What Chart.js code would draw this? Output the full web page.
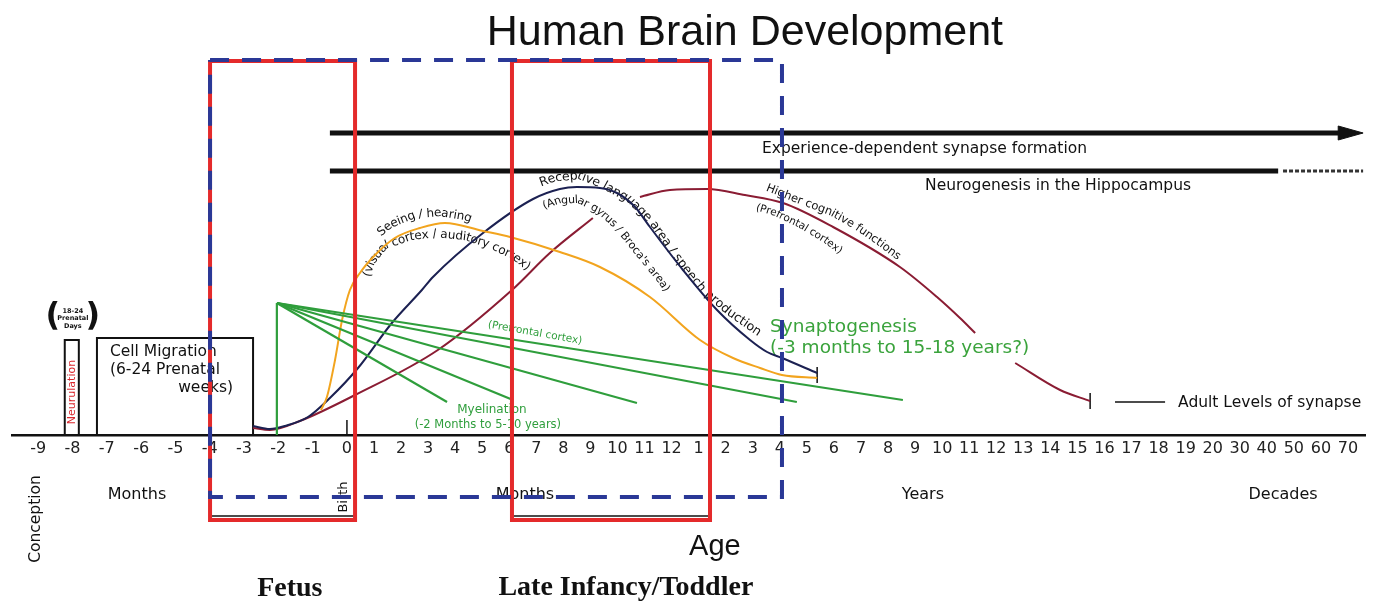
<!DOCTYPE html>
<html>
<head>
<meta charset="utf-8">
<script src="https://cdn.jsdelivr.net/npm/chart.js@4.4.1/dist/chart.umd.min.js"></script>
<style>
html, body { margin: 0; padding: 0; background: #fff; }
#wrap { width: 1380px; height: 602px; }
</style>
</head>
<body>
<div id="wrap"><canvas id="brain" width="1380" height="602"></canvas></div>
<script>
// x axis: prenatal months, postnatal months, years, decades
var tickLabels = ['-9', '-8', '-7', '-6', '-5', '-4', '-3', '-2', '-1', '0',
  '1', '2', '3', '4', '5', '6', '7', '8', '9', '10', '11', '12',
  '1', '2', '3', '4', '5', '6', '7', '8', '9', '10', '11', '12', '13', '14', '15', '16', '17', '18', '19', '20',
  '30', '40', '50', '60', '70'];
var PRENATAL_SLOT = 1.268; // prenatal months are drawn wider than the later ticks
var tickValues = tickLabels.map(function (t, i) { return i < 9 ? (i - 9) * PRENATAL_SLOT : i - 9; });

// curves: [axis position, relative level 0-100]
var seeingHearing = [[-0.96, 6.25], [-0.74, 9.5], [-0.44, 18.75], [-0.18, 28.75], [0.11, 36.25], [0.48, 40.5],
  [1.04, 45], [1.77, 49.25], [2.70, 51.75], [3.62, 53], [5.03, 51], [6.03, 49.5], [7.87, 45.75], [9.35, 42],
  [11.2, 34.5], [13.05, 23.75], [14.27, 19.25], [15.27, 16.75], [16.08, 15], [17.38, 14.25]];
var receptiveLanguage = [[-3.47, 2.25], [-2.85, 1.5], [-2.29, 2.25], [-1.44, 4.5], [-0.63, 9.25], [0.41, 16.75],
  [1.66, 28], [2.77, 36.25], [3.18, 39.5], [5.03, 50.5], [6.88, 59], [7.87, 61.5], [8.50, 62], [9.35, 61.75],
  [9.98, 60.5], [10.65, 57], [11.2, 52], [12.42, 41.25], [13.68, 31.25], [14.9, 23.75], [15.53, 20.75],
  [16.08, 19.25], [17.38, 15.5]];
var higherCognitive = [[-3.47, 1.75], [-2.85, 1.25], [-1.74, 3.5], [0.30, 10], [3.36, 21.25], [6.10, 36.25],
  [7.50, 45.5], [9.09, 54.25], [9.9, null], [10.83, 59.5], [11.94, 61.25], [13.31, 61.5], [14.71, 60],
  [16.12, 58], [17.97, 52], [20.44, 42], [21.81, 34.5], [22.66, 29.25], [23.22, 25.5], [23.9, null],
  [24.70, 18], [26.36, 11.25], [27.47, 8.5]];
var myelinationOrigin = [-2.59, 33];
var myelinationEnds = [[3.70, 8.25], [6.14, 8.75], [10.72, 8], [16.63, 8.25], [20.55, 8.75]];
var synaptogenesisEnd = [17.38, 13, 17];
var adultLevelEnd = [27.47, 6.5, 10.5];
var adultLevelKey = [28.39, 30.24, 8.25];

// horizontal processes: [start, end, level]
var experienceFormation = [-0.63, 36.7, 75.5];
var neurogenesisSolid = [-0.63, 34.42, 66];
var neurogenesisLater = [34.6, 37.56, 66];

// prenatal boxes: [left, right, top]
var neurulation = [-10.43, -9.91, 23.75];
var cellMigration = [-9.24, -3.47, 24.25];

// highlighted stages: [left, right, top, bottom]
var fetusBox = [-5.06, 0.30, 93.5, -21.25];
var toddlerBox = [6.10, 13.42, 93.5, -21.25];
var focusBox = [-5.06, 16.08, 93.75, -15.5];
var birthMark = [0, 0, 3.75];

function xy(p) { return { x: p[0], y: p[1] }; }
function line(points, color, width, extra) {
  var ds = {
    data: points.map(xy), borderColor: color, backgroundColor: color, borderWidth: width,
    pointRadius: 0, fill: false, tension: 0, clip: false, spanGaps: false, order: 5
  };
  for (var k in extra) ds[k] = extra[k];
  return ds;
}
function rect(b) {
  return [[b[0], b[2]], [b[1], b[2]], [b[1], b[3]], [b[0], b[3]], [b[0], b[2]]];
}
function openBox(b) {
  return [[b[0], 0], [b[0], b[2]], [b[1], b[2]], [b[1], 0]];
}

var RED = '#e42a2b', BLUE = '#2a3896', GREEN = '#2f9e3c', ORANGE = '#f2a41e', NAVY = '#1c2152', MAROON = '#8a1c33', INK = '#111';

var datasets = [
  line(rect(focusBox), BLUE, 4, { borderDash: [19, 13], order: 0 }),
  line(rect(fetusBox), RED, 4, { order: 1, borderJoinStyle: 'miter' }),
  line(rect(toddlerBox), RED, 4, { order: 1, borderJoinStyle: 'miter' }),
  line([[fetusBox[0], -20.25], [fetusBox[1], -20.25]], INK, 1.5, { order: 2 }),
  line([[toddlerBox[0], -20.25], [toddlerBox[1], -20.25]], INK, 1.5, { order: 2 }),
  line(seeingHearing, ORANGE, 2, { cubicInterpolationMode: 'monotone', order: 4 }),
  line(receptiveLanguage, NAVY, 2, { cubicInterpolationMode: 'monotone', order: 4 }),
  line(higherCognitive, MAROON, 2, { cubicInterpolationMode: 'monotone', order: 4 }),
  line([[synaptogenesisEnd[0], synaptogenesisEnd[1]], [synaptogenesisEnd[0], synaptogenesisEnd[2]]], INK, 1.5),
  line([[adultLevelEnd[0], adultLevelEnd[1]], [adultLevelEnd[0], adultLevelEnd[2]]], INK, 1.5),
  line([[adultLevelKey[0], adultLevelKey[2]], [adultLevelKey[1], adultLevelKey[2]]], INK, 1.5),
  line([myelinationOrigin, [myelinationOrigin[0], 0]], GREEN, 2.2, { order: 3 }),
  line(openBox(neurulation), INK, 2),
  line(openBox(cellMigration), INK, 2),
  line([[birthMark[0], birthMark[1]], [birthMark[0], birthMark[2]]], INK, 1.5),
  line([[experienceFormation[0], experienceFormation[2]], [experienceFormation[1], experienceFormation[2]]], INK, 5),
  line([[36.64, 77.25], [37.56, 75.5], [36.64, 73.75], [36.64, 77.25]], INK, 1, { fill: 'shape' }),
  line([[neurogenesisSolid[0], neurogenesisSolid[2]], [neurogenesisSolid[1], neurogenesisSolid[2]]], INK, 5),
  line([[neurogenesisLater[0], neurogenesisLater[2]], [neurogenesisLater[1], neurogenesisLater[2]]], '#333', 3, { borderDash: [4, 2] })
];
myelinationEnds.forEach(function (e) {
  datasets.push(line([myelinationOrigin, e], GREEN, 2.2, { order: 3 }));
});

var SANS = '"DejaVu Sans"';
var labels = [
  { t: 'Human Brain Development', at: [14.71, 97.5], font: '43px "Liberation Sans"', base: 'alphabetic' },
  { t: 'Experience-dependent synapse formation', at: [15.34, 71.5], font: '15.5px ' + SANS, align: 'left' },
  { t: 'Neurogenesis in the Hippocampus', at: [21.37, 62.25], font: '15.5px ' + SANS, align: 'left' },
  { t: 'Cell Migration', at: [-8.76, 20.75], font: '15.5px ' + SANS, align: 'left' },
  { t: '(6-24 Prenatal', at: [-8.76, 16.25], font: '15.5px ' + SANS, align: 'left' },
  { t: 'weeks)', at: [-4.21, 11.75], font: '15.5px ' + SANS, align: 'right' },
  { t: 'Neurulation', at: [-10.15, 10.75], font: '11px ' + SANS, color: '#d9282e', rot: -90 },
  { t: '(', at: [-10.87, 29.5], font: 'bold 32px ' + SANS },
  { t: ')', at: [-9.39, 29.5], font: 'bold 32px ' + SANS },
  { t: '18-24', at: [-10.13, 31], font: 'bold 6.5px ' + SANS },
  { t: 'Prenatal', at: [-10.13, 29.1], font: 'bold 6.5px ' + SANS },
  { t: 'Days', at: [-10.13, 27.25], font: 'bold 6.5px ' + SANS },
  { t: '(Prefrontal cortex)', at: [6.95, 25.5], font: '10.5px ' + SANS, color: GREEN, rot: 10 },
  { t: 'Myelination', at: [5.36, 6.25], font: '12px ' + SANS, color: GREEN },
  { t: '(-2 Months to 5-10 years)', at: [5.21, 2.5], font: '11.5px ' + SANS, color: GREEN },
  { t: 'Synaptogenesis', at: [15.64, 27], font: '18.5px ' + SANS, color: '#3aa33c', align: 'left' },
  { t: '(-3 months to 15-18 years?)', at: [15.64, 21.75], font: '18.5px ' + SANS, color: '#3aa33c', align: 'left' },
  { t: 'Adult Levels of synapse', at: [30.72, 8], font: '15.5px ' + SANS, align: 'left' },
  { t: 'Months', at: [-7.76, -15], font: '16px ' + SANS },
  { t: 'Months', at: [6.58, -15], font: '16px ' + SANS },
  { t: 'Years', at: [21.29, -15], font: '16px ' + SANS },
  { t: 'Decades', at: [34.6, -15], font: '16px ' + SANS },
  { t: 'Conception', at: [-11.5, -21], font: '15.5px ' + SANS, rot: -90 },
  { t: 'Birth', at: [-0.11, -15.5], font: '13px ' + SANS, rot: -90 },
  { t: 'Age', at: [13.6, -30], font: '29px "Liberation Sans"', base: 'alphabetic' },
  { t: 'Fetus', at: [-2.11, -40.25], font: 'bold 28px "Liberation Serif"', base: 'alphabetic' },
  { t: 'Late Infancy/Toddler', at: [10.31, -40], font: 'bold 28px "Liberation Serif"', base: 'alphabetic' }
];
var curvedLabels = [
  { t: 'Seeing / hearing', font: '12px ' + SANS,
    path: [[0.78, 48], [1.59, 52.5], [2.51, 55], [3.44, 55.5], [4.36, 54.5], [5.10, 52.75]] },
  { t: '(visual cortex / auditory cortex)', font: '12px ' + SANS,
    path: [[0.55, 36.25], [0.92, 43.25], [1.40, 47.25], [2.33, 49.5], [3.33, 50.25], [4.36, 49.5], [5.29, 47.5], [6.21, 44.5], [7.13, 39.5]] },
  { t: 'Receptive language area / speech production', font: '12.5px ' + SANS,
    path: [[6.88, 62.25], [7.69, 64.25], [8.61, 64.75], [9.46, 62.5], [10.46, 58.75], [11.28, 53.25], [11.87, 47.5],
      [12.50, 41.75], [13.16, 36.25], [14.16, 30.5], [15.45, 24.5]] },
  { t: '(Angular gyrus / Broca\'s area)', font: '11px ' + SANS,
    path: [[7.06, 56.75], [7.80, 58.5], [8.54, 58.75], [9.28, 56.25], [9.91, 52.5], [10.46, 48], [11.02, 43.25], [11.57, 38.75], [11.94, 35]] },
  { t: 'Higher cognitive functions', font: '11.5px ' + SANS,
    path: [[15.27, 62.5], [16.75, 58.5], [17.86, 55.75], [18.85, 52], [19.70, 48], [20.63, 43.25]] },
  { t: '(Prefrontal cortex)', font: '10.5px ' + SANS,
    path: [[14.79, 57.5], [15.82, 55.5], [16.75, 52.5], [17.67, 48.75], [18.52, 44.5]] }
];

var labelPlugin = {
  id: 'labelPlugin',
  beforeDatasetsDraw: function (chart) {
    var ctx = chart.ctx, xs = chart.scales.x, ys = chart.scales.y;
    function px(u) { return xs.getPixelForValue(u); }
    function py(v) { return ys.getPixelForValue(v); }
    labels.forEach(function (l) {
      ctx.save();
      ctx.font = l.font;
      ctx.fillStyle = l.color || INK;
      ctx.textAlign = l.align || 'center';
      ctx.textBaseline = l.base || 'middle';
      ctx.translate(px(l.at[0]), py(l.at[1]));
      if (l.rot) ctx.rotate(l.rot * Math.PI / 180);
      ctx.fillText(l.t, 0, 0);
      ctx.restore();
    });
    // labels that bend along the curves
    curvedLabels.forEach(function (l) {
      var pts = l.path.map(function (p) { return [px(p[0]), py(p[1])]; });
      ctx.save();
      ctx.font = l.font;
      ctx.fillStyle = INK;
      ctx.textAlign = 'center';
      ctx.textBaseline = 'middle';
      var lens = [], total = 0, i;
      for (i = 1; i < pts.length; i++) {
        var d = Math.hypot(pts[i][0] - pts[i - 1][0], pts[i][1] - pts[i - 1][1]);
        lens.push(d); total += d;
      }
      var s = Math.max(0, (total - ctx.measureText(l.t).width) / 2);
      for (var c = 0; c < l.t.length; c++) {
        var ch = l.t[c], w = ctx.measureText(ch).width, pos = s + w / 2, j = 0;
        while (j < lens.length - 1 && pos > lens[j]) { pos -= lens[j]; j++; }
        var a = pts[j], b = pts[j + 1], f = pos / lens[j];
        ctx.save();
        ctx.translate(a[0] + (b[0] - a[0]) * f, a[1] + (b[1] - a[1]) * f);
        ctx.rotate(Math.atan2(b[1] - a[1], b[0] - a[0]));
        ctx.fillText(ch, 0, 0);
        ctx.restore();
        s += w;
      }
      ctx.restore();
    });
  }
};

new Chart(document.getElementById('brain'), {
  type: 'line',
  data: { datasets: datasets },
  plugins: [labelPlugin],
  options: {
    responsive: false,
    animation: false,
    devicePixelRatio: 1,
    events: [],
    layout: { padding: { left: 12, right: 15, top: 35, bottom: 0 } },
    plugins: { legend: { display: false }, tooltip: { enabled: false }, title: { display: false } },
    scales: {
      x: {
        type: 'linear', min: -12.38, max: 37.63,
        afterBuildTicks: function (s) { s.ticks = tickValues.map(function (v) { return { value: v }; }); },
        afterFit: function (s) { s.height = 167; },
        grid: { display: false, drawTicks: false },
        border: { display: true, color: INK, width: 2.5 },
        ticks: {
          autoSkip: false, maxRotation: 0, minRotation: 0, padding: 4, color: '#222',
          font: { family: 'DejaVu Sans', size: 16 },
          callback: function (v, i) { return tickLabels[i]; }
        }
      },
      y: { type: 'linear', min: 0, max: 100, display: false }
    }
  }
});
</script>
</body>
</html>
